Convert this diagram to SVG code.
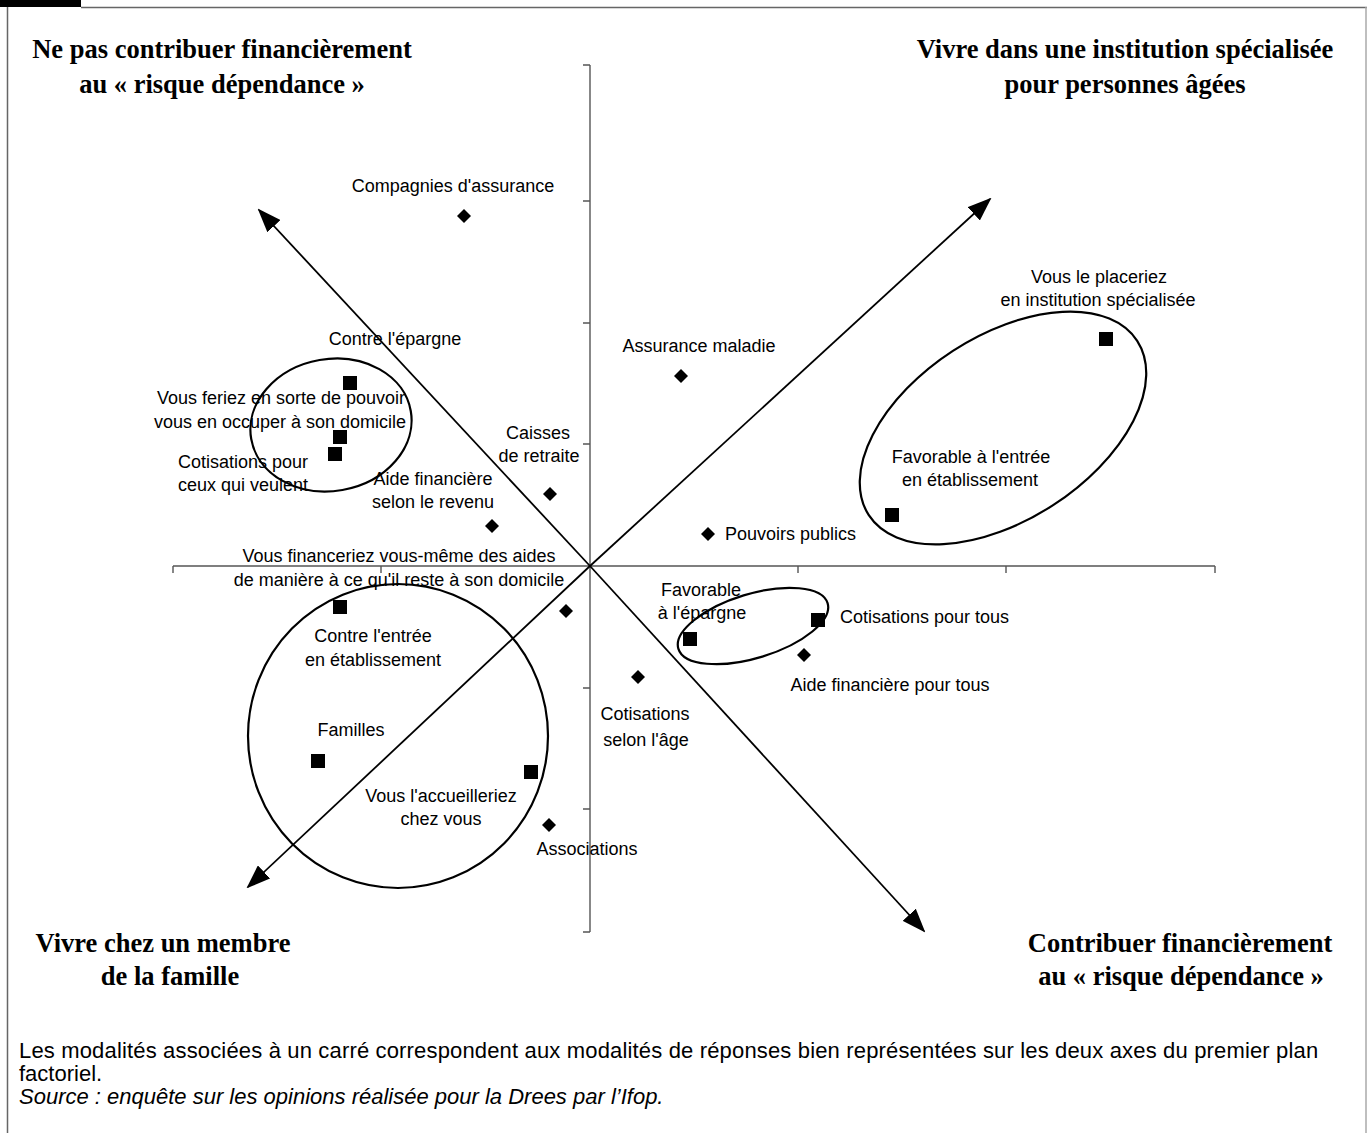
<svg xmlns="http://www.w3.org/2000/svg" width="1367" height="1133" viewBox="0 0 1367 1133">
<style>
.head{font-family:"Liberation Serif","Times New Roman",serif;font-weight:bold;font-size:26.5px;fill:#000;text-anchor:middle}
.lbl{font-family:"Liberation Sans",Arial,sans-serif;font-size:18px;fill:#000;text-anchor:middle}
.lbls{font-family:"Liberation Sans",Arial,sans-serif;font-size:18px;fill:#000}
.note{font-family:"Liberation Sans",Arial,sans-serif;font-size:22px;fill:#000}
.axis{stroke:#555;stroke-width:1.4;fill:none}
.diag{stroke:#000;stroke-width:1.8;fill:none}
.ell{stroke:#000;stroke-width:2.2;fill:none}
</style>
<defs>
<marker id="arr" viewBox="0 0 24 18" refX="22" refY="9" markerWidth="24" markerHeight="18" markerUnits="userSpaceOnUse" orient="auto">
<path d="M0,0 L24,9 L0,18 Z" fill="#000"/>
</marker>
<rect id="s" x="-7" y="-7" width="14" height="14" fill="#000"/>
<path id="d" d="M0,-7 L7,0 L0,7 L-7,0 Z" fill="#000"/>
</defs>
<rect width="1367" height="1133" fill="#fff"/>
<g id="frame">
<rect x="0" y="0" width="81" height="7" fill="#000"/>
<line x1="81" y1="7.5" x2="1367" y2="7.5" stroke="#666" stroke-width="1.5"/>
<line x1="7.5" y1="7" x2="7.5" y2="1133" stroke="#666" stroke-width="1.5"/>
<line x1="1366" y1="7" x2="1366" y2="1133" stroke="#aaa" stroke-width="1.5"/>
</g>
<g id="axes">
<line class="axis" x1="590" y1="65" x2="590" y2="932"/>
<line class="axis" x1="173" y1="566" x2="1215" y2="566"/>
<path class="axis" d="M583,65H590M583,201H590M583,323H590M583,444H590M583,688H590M583,809H590M583,932H590"/>
<path class="axis" d="M173,566V573M381,566V573M798,566V573M1006,566V573M1215,566V573"/>
</g>
<g id="connectors">
<line class="diag" x1="590" y1="566" x2="259" y2="210" marker-end="url(#arr)"/>
<line class="diag" x1="590" y1="566" x2="924" y2="931" marker-end="url(#arr)"/>
<line class="diag" x1="590" y1="566" x2="990" y2="199" marker-end="url(#arr)"/>
<line class="diag" x1="590" y1="566" x2="248" y2="887" marker-end="url(#arr)"/>
</g>
<g id="headings">
<text class="head" x="222" y="58">Ne pas contribuer financièrement</text>
<text class="head" x="222" y="93">au « risque dépendance »</text>
<text class="head" x="1125" y="58">Vivre dans une institution spécialisée</text>
<text class="head" x="1125" y="93">pour personnes âgées</text>
<text class="head" x="163" y="952">Vivre chez un membre</text>
<text class="head" x="170" y="985">de la famille</text>
<text class="head" x="1180" y="952">Contribuer financièrement</text>
<text class="head" x="1181" y="985">au « risque dépendance »</text>
</g>
<g id="ellipses">
<ellipse class="ell" cx="331" cy="425" rx="81" ry="66" transform="rotate(-10 331 425)"/>
<ellipse class="ell" cx="398" cy="736" rx="150" ry="152"/>
<ellipse class="ell" cx="1003" cy="428" rx="160" ry="92" transform="rotate(-33 1003 428)"/>
<ellipse class="ell" cx="753" cy="626" rx="78" ry="32" transform="rotate(-17 753 626)"/>
</g>
<g id="n-compagnies"><use href="#d" x="464" y="216"/><text class="lbl" x="453" y="192">Compagnies d'assurance</text></g>
<g id="n-assurance-maladie"><use href="#d" x="681" y="376"/><text class="lbl" x="699" y="352">Assurance maladie</text></g>
<g id="n-caisses"><use href="#d" x="550" y="494"/><text class="lbl" x="538" y="439">Caisses</text><text class="lbl" x="539" y="462">de retraite</text></g>
<g id="n-aide-revenu"><use href="#d" x="492" y="526"/><text class="lbl" x="433" y="485">Aide financière</text><text class="lbl" x="433" y="508">selon le revenu</text></g>
<g id="n-pouvoirs"><use href="#d" x="708" y="534"/><text class="lbls" x="725" y="540">Pouvoirs publics</text></g>
<g id="n-financeriez"><use href="#d" x="566" y="611"/><text class="lbl" x="399" y="562">Vous financeriez vous-même des aides</text><text class="lbl" x="399" y="586">de manière à ce qu'il reste à son domicile</text></g>
<g id="n-cotis-age"><use href="#d" x="638" y="677"/><text class="lbl" x="645" y="720">Cotisations</text><text class="lbl" x="646" y="746">selon l'âge</text></g>
<g id="n-aide-tous"><use href="#d" x="804" y="655"/><text class="lbl" x="890" y="691">Aide financière pour tous</text></g>
<g id="n-associations"><use href="#d" x="549" y="825"/><text class="lbl" x="587" y="855">Associations</text></g>
<g id="n-placeriez"><use href="#s" x="1106" y="339"/><text class="lbl" x="1099" y="283">Vous le placeriez</text><text class="lbl" x="1098" y="306">en institution spécialisée</text></g>
<g id="n-fav-entree"><use href="#s" x="892" y="515"/><text class="lbl" x="971" y="463">Favorable à l'entrée</text><text class="lbl" x="970" y="486">en établissement</text></g>
<g id="n-contre-epargne"><use href="#s" x="350" y="383"/><text class="lbl" x="395" y="345">Contre l'épargne</text></g>
<g id="n-feriez"><use href="#s" x="340" y="437"/><text class="lbl" x="281" y="404">Vous feriez en sorte de pouvoir</text><text class="lbl" x="280" y="428">vous en occuper à son domicile</text></g>
<g id="n-cotis-veulent"><use href="#s" x="335" y="454"/><text class="lbl" x="243" y="468">Cotisations pour</text><text class="lbl" x="243" y="491">ceux qui veulent</text></g>
<g id="n-contre-entree"><use href="#s" x="340" y="607"/><text class="lbl" x="373" y="642">Contre l'entrée</text><text class="lbl" x="373" y="666">en établissement</text></g>
<g id="n-familles"><use href="#s" x="318" y="761"/><text class="lbl" x="351" y="736">Familles</text></g>
<g id="n-accueilleriez"><use href="#s" x="531" y="772"/><text class="lbl" x="441" y="802">Vous l'accueilleriez</text><text class="lbl" x="441" y="825">chez vous</text></g>
<g id="n-fav-epargne"><use href="#s" x="690" y="639"/><text class="lbl" x="701" y="596">Favorable</text><text class="lbl" x="702" y="619">à l'épargne</text></g>
<g id="n-cotis-tous"><use href="#s" x="818" y="620"/><text class="lbls" x="840" y="623">Cotisations pour tous</text></g>
<g id="notes">
<text class="note" x="19" y="1058" letter-spacing="0.16">Les modalités associées à un carré correspondent aux modalités de réponses bien représentées sur les deux axes du premier plan</text>
<text class="note" x="19" y="1081">factoriel.</text>
<text class="note" x="19" y="1104" font-style="italic">Source : enquête sur les opinions réalisée pour la Drees par l’Ifop.</text>
</g>
</svg>
